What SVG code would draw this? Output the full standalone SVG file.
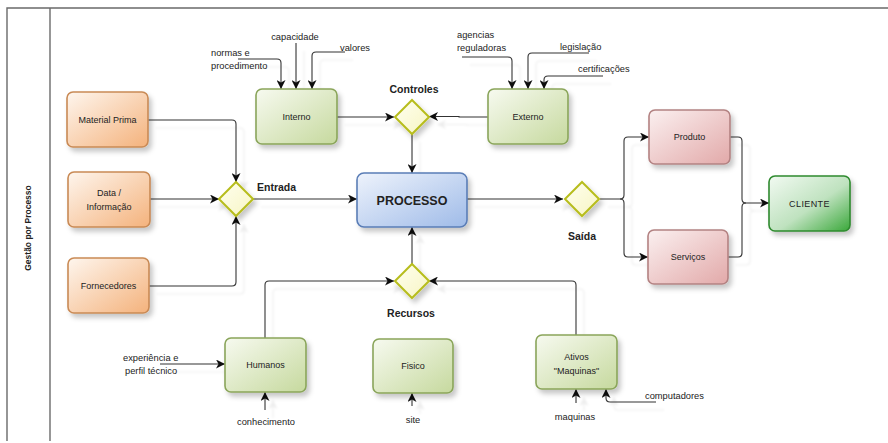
<svg xmlns="http://www.w3.org/2000/svg" width="888" height="443" viewBox="0 0 888 443">
  <defs>
    <linearGradient id="gOrange" x1="0" y1="0" x2="1" y2="1">
      <stop offset="0" stop-color="#fef6ee"/>
      <stop offset="1" stop-color="#f4b27c"/>
    </linearGradient>
    <linearGradient id="gGreen" x1="0" y1="0" x2="1" y2="1">
      <stop offset="0" stop-color="#f7faf0"/>
      <stop offset="1" stop-color="#c6d99e"/>
    </linearGradient>
    <linearGradient id="gPink" x1="0" y1="0" x2="1" y2="1">
      <stop offset="0" stop-color="#fbf0f0"/>
      <stop offset="1" stop-color="#e2a9a9"/>
    </linearGradient>
    <linearGradient id="gBlue" x1="0" y1="0" x2="1" y2="1">
      <stop offset="0" stop-color="#eef3fc"/>
      <stop offset="1" stop-color="#9fbbe8"/>
    </linearGradient>
    <linearGradient id="gClient" x1="0" y1="0" x2="1" y2="1">
      <stop offset="0" stop-color="#f2faf2"/>
      <stop offset="0.55" stop-color="#bfe2bf"/>
      <stop offset="1" stop-color="#3aa83a"/>
    </linearGradient>
    <linearGradient id="gDiamond" x1="0" y1="0" x2="1" y2="1">
      <stop offset="0" stop-color="#ffffef"/>
      <stop offset="1" stop-color="#f7f5c4"/>
    </linearGradient>
    <filter id="shadow" x="-20%" y="-20%" width="150%" height="160%">
      <feDropShadow dx="3" dy="4" stdDeviation="2.5" flood-color="#000" flood-opacity="0.22"/>
    </filter>
    <filter id="lineShadow" x="-10%" y="-10%" width="130%" height="130%">
      <feDropShadow dx="8" dy="8" stdDeviation="0.8" flood-color="#000" flood-opacity="0.07"/>
    </filter>
    <marker id="arrow" markerUnits="userSpaceOnUse" markerWidth="10" markerHeight="9" refX="9" refY="4.5" orient="auto">
      <path d="M0,0 L9,4.5 L0,9 L2.5,4.5 z" fill="#111"/>
    </marker>
  </defs>
  <style>
    .frame { fill: none; stroke: #6a6a6a; stroke-width: 1.4; }
    .node { filter: url(#shadow); stroke-width: 1.6; }
    .orange { fill: url(#gOrange); stroke: #c98a55; }
    .green { fill: url(#gGreen); stroke: #8aa55a; }
    .pink { fill: url(#gPink); stroke: #b38282; }
    .blue { fill: url(#gBlue); stroke: #5a7db6; }
    .client { fill: url(#gClient); stroke: #2e8a2e; }
    .gate { fill: url(#gDiamond); stroke: #b7bd1c; stroke-width: 2; filter: url(#shadow); }
    .line { fill: none; stroke: #333; stroke-width: 1.1; }
    .conn { fill: none; stroke: #333; stroke-width: 1.1; marker-end: url(#arrow); }
    text { font-family: "Liberation Sans", Arial, sans-serif; fill: #222; }
    .lbl { font-size: 9px; text-anchor: middle; }
    .note { font-size: 9.3px; }
    .bold { font-weight: bold; font-size: 10.5px; }
    .title { font-weight: bold; font-size: 12.5px; text-anchor: middle; }
  </style>

  <!-- pool frame with lane header -->
  <g id="pool">
    <path class="frame" d="M7,441 V8 H890"/>
    <path class="frame" d="M50,8 V441"/>
    <text class="bold" style="font-size:8.5px" text-anchor="middle" transform="translate(31,228) rotate(-90)">Gestão por Processo</text>
  </g>

  <!-- connectors -->
  <g id="connectors" filter="url(#lineShadow)">
    <path class="conn" d="M148,120 H232 Q236,120 236,124 V182"/>
    <path class="conn" d="M150,199 H219"/>
    <path class="conn" d="M149,286 H232 Q236,286 236,282 V216"/>
    <path class="conn" d="M253,199 H357"/>
    <path class="conn" d="M337,117 H394"/>
    <path class="conn" d="M488,117 H459 V116.5 H429"/>
    <path class="conn" d="M412,134 V173"/>
    <path class="conn" d="M412,264 V227"/>
    <path class="conn" d="M265,338 V285 Q265,281 269,281 H394"/>
    <path class="conn" d="M576,335 V285 Q576,281 572,281 H429"/>
    <path class="conn" d="M467,199 H563"/>
    <path class="conn" d="M600,199 H620 Q624,199 624,195 V141 Q624,137 628,137 H649"/>
    <path class="conn" d="M620,199 Q624,199 624,203 V253 Q624,257 628,257 H648"/>
    <path class="conn" d="M730,137 H738 Q742,137 742,141 V199 Q742,203 746,203 H769"/>
    <path class="line" d="M728,257 H738 Q742,257 742,253 V207 Q742,203 746,203"/>
    <!-- annotation inputs -->
    <path class="conn" d="M238,59 H277 Q281,59 281,63 V89"/>
    <path class="conn" d="M296,43 V89"/>
    <path class="conn" d="M345,52 H316 Q312,52 312,56 V89"/>
    <path class="conn" d="M462,57 H508 Q512,57 512,61 V89"/>
    <path class="conn" d="M589,53 H532 Q528,53 528,57 V89"/>
    <path class="conn" d="M603,76 H548 Q544,76 544,80 V89"/>
    <path class="conn" d="M160,364 H225"/>
    <path class="conn" d="M265,410 V392"/>
    <path class="conn" d="M412,406 V393"/>
    <path class="conn" d="M576,403 V389"/>
    <path class="conn" d="M656,402 H610 Q606,402 606,398 V389"/>
  </g>

  <!-- inputs -->
  <g id="material-prima">
    <rect class="node orange" x="67" y="92" width="81" height="55" rx="6"/>
    <text class="lbl" x="107.5" y="123">Material Prima</text>
  </g>
  <g id="data-informacao">
    <rect class="node orange" x="68" y="172" width="82" height="55" rx="6"/>
    <text class="lbl" x="109" y="196">Data /</text>
    <text class="lbl" x="109" y="210">Informação</text>
  </g>
  <g id="fornecedores">
    <rect class="node orange" x="68" y="258" width="81" height="55" rx="6"/>
    <text class="lbl" x="108.5" y="289">Fornecedores</text>
  </g>

  <!-- controls -->
  <g id="interno">
    <rect class="node green" x="256" y="89" width="81" height="55" rx="6"/>
    <text class="lbl" x="296.5" y="120">Interno</text>
  </g>
  <g id="externo">
    <rect class="node green" x="488" y="89" width="80" height="55" rx="6"/>
    <text class="lbl" x="528" y="120">Externo</text>
  </g>

  <!-- gateways -->
  <g id="gate-entrada">
    <path class="gate" d="M236,182 L253,199 L236,216 L219,199 Z"/>
    <text class="bold" x="257" y="191">Entrada</text>
  </g>
  <g id="gate-controles">
    <path class="gate" d="M412,100 L429,117 L412,134 L395,117 Z"/>
    <text class="bold" x="414" y="93" text-anchor="middle">Controles</text>
  </g>
  <g id="gate-saida">
    <path class="gate" d="M582,182 L599,199 L582,216 L565,199 Z"/>
    <text class="bold" x="582" y="240" text-anchor="middle">Saída</text>
  </g>
  <g id="gate-recursos">
    <path class="gate" d="M412,264 L429,281 L412,298 L395,281 Z"/>
    <text class="bold" x="411" y="317" text-anchor="middle">Recursos</text>
  </g>

  <!-- core process -->
  <g id="processo">
    <rect class="node blue" x="357" y="173" width="110" height="54" rx="7"/>
    <text class="title" x="412" y="204.5">PROCESSO</text>
  </g>

  <!-- outputs -->
  <g id="produto">
    <rect class="node pink" x="649" y="110" width="81" height="54" rx="6"/>
    <text class="lbl" x="689.5" y="140">Produto</text>
  </g>
  <g id="servicos">
    <rect class="node pink" x="648" y="230" width="80" height="54" rx="6"/>
    <text class="lbl" x="688" y="260">Serviços</text>
  </g>
  <g id="cliente">
    <rect class="node client" x="769" y="176" width="81" height="55" rx="6"/>
    <text class="lbl" x="809.5" y="207" style="letter-spacing:0.4px">CLIENTE</text>
  </g>

  <!-- resources -->
  <g id="humanos">
    <rect class="node green" x="225" y="338" width="81" height="54" rx="6"/>
    <text class="lbl" x="265.5" y="368">Humanos</text>
  </g>
  <g id="fisico">
    <rect class="node green" x="373" y="339" width="80" height="54" rx="6"/>
    <text class="lbl" x="413" y="369">Fisico</text>
  </g>
  <g id="ativos">
    <rect class="node green" x="536" y="335" width="81" height="54" rx="6"/>
    <text class="lbl" x="576.5" y="360">Ativos</text>
    <text class="lbl" x="576.5" y="374">"Maquinas"</text>
  </g>

  <!-- annotation texts -->
  <g id="notes">
    <text class="note" x="211" y="56">normas e</text>
    <text class="note" x="211" y="69">procedimento</text>
    <text class="note" x="295" y="40" text-anchor="middle">capacidade</text>
    <text class="note" x="340" y="51">valores</text>
    <text class="note" x="457" y="38">agencias</text>
    <text class="note" x="457" y="51">reguladoras</text>
    <text class="note" x="560" y="50">legislação</text>
    <text class="note" x="578" y="72">certificações</text>
    <text class="note" x="123" y="361">experiência e</text>
    <text class="note" x="125" y="374">perfil técnico</text>
    <text class="note" x="266" y="425" text-anchor="middle">conhecimento</text>
    <text class="note" x="413" y="423" text-anchor="middle">site</text>
    <text class="note" x="575" y="420" text-anchor="middle">maquinas</text>
    <text class="note" x="645" y="399">computadores</text>
  </g>
</svg>
